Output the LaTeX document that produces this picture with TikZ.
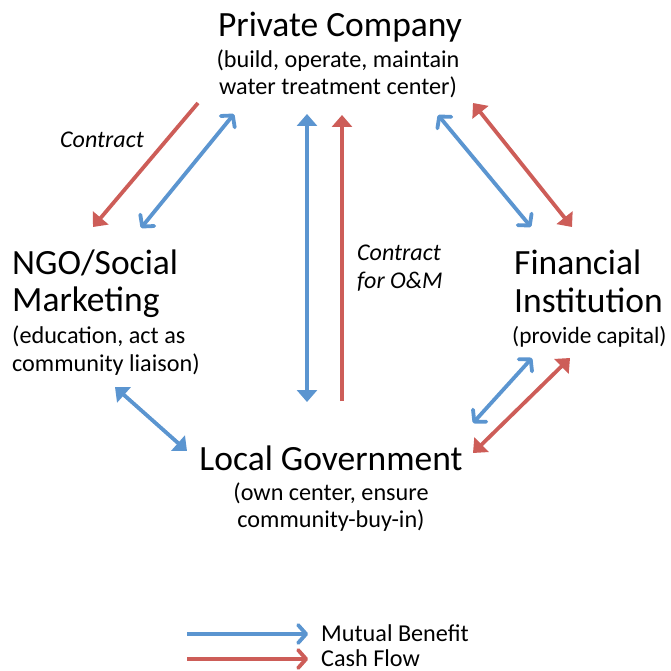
\documentclass[tikz,border=0pt]{standalone}
\usepackage{fontspec}
\setmainfont{Carlito}
\usetikzlibrary{arrows.meta}
\definecolor{mblue}{HTML}{5B95D0}
\definecolor{mred}{HTML}{CD5D58}
\begin{document}
\begin{tikzpicture}[x=1pt,y=-1pt,
  titletext/.style={font=\fontsize{35.5}{38}\selectfont, inner sep=0},
  subtext/.style={font=\fontsize{24.2}{28}\selectfont, inner sep=0},
  itext/.style={font=\fontsize{24}{28}\selectfont\itshape, inner sep=0},
  conn/.style={line width=3.8pt},
  bluec/.style={conn, draw=mblue},
  redc/.style={conn, draw=mred},
  bopen/.style={bluec, {Straight Barb[length=8pt,width=18pt,line width=3.8pt,round]}-{Straight Barb[length=8pt,width=18pt,line width=3.8pt,round]}},
  bfill/.style={bluec, {Triangle[length=12pt,width=20pt]}-{Triangle[length=12pt,width=20pt]}},
  rboth/.style={redc, {Triangle[length=12pt,width=20pt]}-{Triangle[length=12pt,width=20pt]}},
  rend/.style={redc, -{Triangle[length=12pt,width=20pt]}},
]
\fill[white] (0,0) rectangle (670,671);
\useasboundingbox (0,0) rectangle (670,671);

% Private Company
\node[titletext, anchor=base] (pc) at (340,37) {Private Company};
\node[subtext, anchor=base] (pc1) at (338,68) {(build, operate, maintain};
\node[subtext, anchor=base] (pc2) at (338,95) {water treatment center)};

% NGO
\node[titletext, anchor=base west] (ngo) at (12,274) {NGO/Social};
\node[titletext, anchor=base west] (ngo1) at (12,311) {Marketing};
\node[subtext, anchor=base west] (ngo2) at (12,343) {(education, act as};
\node[subtext, anchor=base west] (ngo3) at (12,371) {community liaison)};

% Financial
\node[titletext, anchor=base west] (fi) at (514,274) {Financial};
\node[titletext, anchor=base west] (fi1) at (514,312) {Institution};
\node[subtext, anchor=base west, font=\fontsize{23.4}{28}\selectfont] (fi2) at (512,343) {(provide capital)};

% Local Government
\node[titletext, anchor=base] (lg) at (331,470) {Local Government};
\node[subtext, anchor=base] (lg1) at (331,500) {(own center, ensure};
\node[subtext, anchor=base] (lg2) at (331,527) {community-buy-in)};

% labels
\node[itext, anchor=base west] (c1) at (60,148) {Contract};
\node[itext, anchor=base west] (c2) at (357,260) {Contract};
\node[itext, anchor=base west] (c3) at (357,288) {for O\&M};

% endpoints
\coordinate (a1) at (198,103); \coordinate (a2) at (93,227);
\coordinate (b1) at (234,114); \coordinate (b2) at (141,228);
\coordinate (c1s) at (438,115); \coordinate (c2s) at (531,227);
\coordinate (d1) at (473,103); \coordinate (d2) at (572,227);
\coordinate (e1) at (307,114); \coordinate (e2) at (307,402);
\coordinate (f1) at (342,115); \coordinate (f2) at (342,401);
\coordinate (g1) at (115,387); \coordinate (g2) at (187,451);
\coordinate (h1) at (532,358); \coordinate (h2) at (473,423);
\coordinate (i1) at (570,358); \coordinate (i2) at (473,453);

\draw[rend] (a1) -- (a2);
\draw[bopen] (b1) -- (b2);
\draw[bopen] (c1s) -- (c2s);
\draw[rboth] (d1) -- (d2);
\draw[bfill] (e1) -- (e2);
\draw[rend] (f2) -- (f1);
\draw[bfill] (g1) -- (g2);
\draw[bopen] (h1) -- (h2);
\draw[rboth] (i1) -- (i2);

% legend
\coordinate (l1) at (187,634); \coordinate (l2) at (308,634);
\coordinate (m1) at (187,659); \coordinate (m2) at (308,659);
\draw[bluec, -{Straight Barb[length=8pt,width=18pt,line width=3.8pt,round]}] (l1) -- (l2);
\draw[redc, -{Straight Barb[length=8pt,width=18pt,line width=3.8pt,round]}] (m1) -- (m2);
\node[subtext, anchor=base west] (lb) at (321,641) {Mutual Benefit};
\node[subtext, anchor=base west] (lr) at (321,666) {Cash Flow};
\end{tikzpicture}
\end{document}
